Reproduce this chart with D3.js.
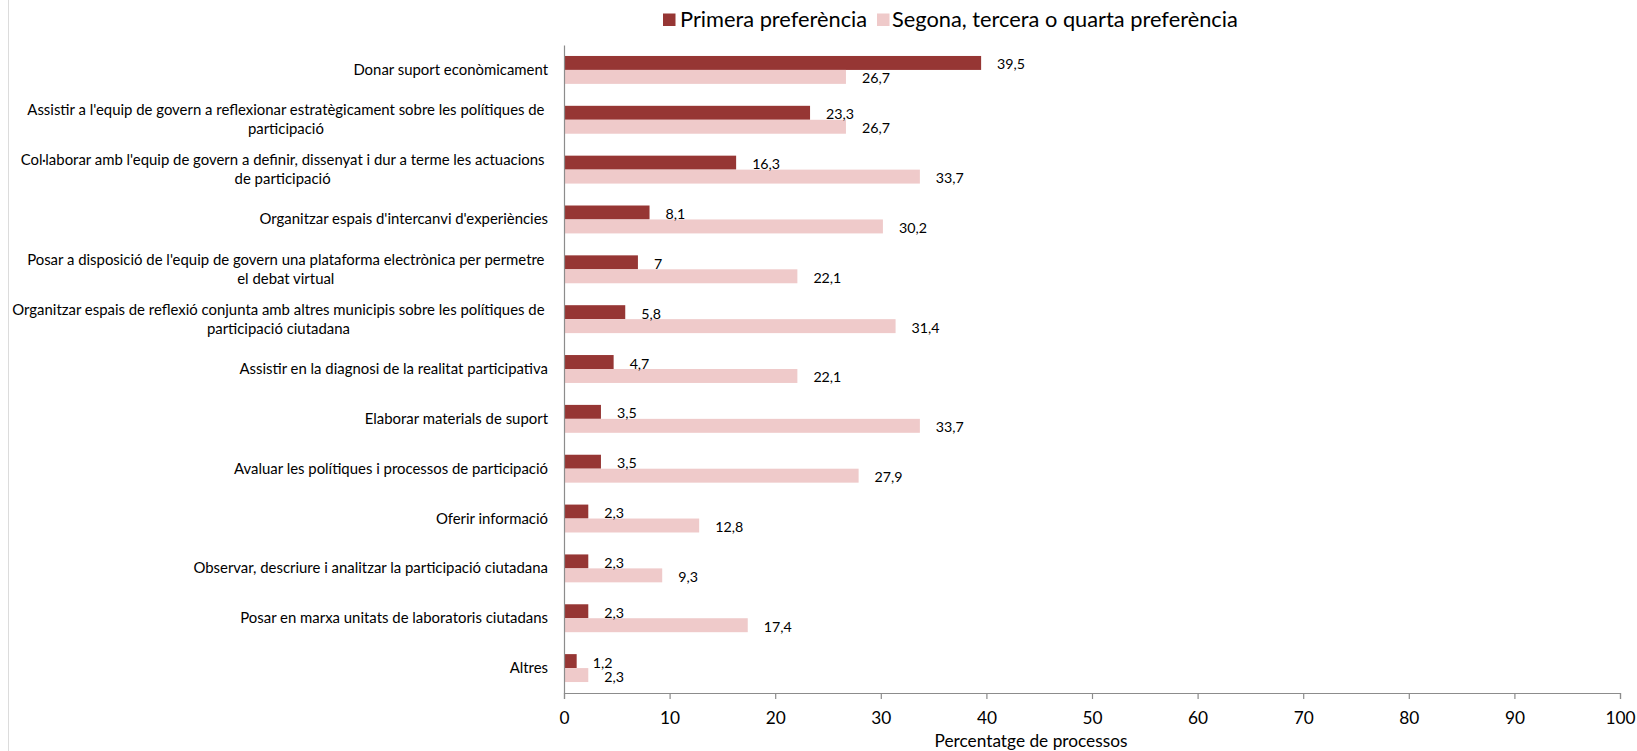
<!DOCTYPE html>
<html>
<head>
<meta charset="utf-8">
<script src="https://cdn.jsdelivr.net/npm/d3@7"></script>
<style>
  html, body { margin: 0; padding: 0; background: #ffffff; }
  svg { display: block; }
</style>
</head>
<body>
<svg id="chart" width="1637" height="751"></svg>
<script>
// ---------------- DATA ----------------
const categories = [
  "Donar suport econòmicament",
  "Assistir a l'equip de govern a reflexionar estratègicament sobre les polítiques de\nparticipació",
  "Col·laborar amb l'equip de govern a definir, dissenyat i dur a terme les actuacions\nde participació",
  "Organitzar espais d'intercanvi d'experiències",
  "Posar a disposició de l'equip de govern una plataforma electrònica per permetre\nel debat virtual",
  "Organitzar espais de reflexió conjunta amb altres municipis sobre les polítiques de\nparticipació ciutadana",
  "Assistir en la diagnosi de la realitat participativa",
  "Elaborar materials de suport",
  "Avaluar les polítiques i processos de participació",
  "Oferir informació",
  "Observar, descriure i analitzar la participació ciutadana",
  "Posar en marxa unitats de laboratoris ciutadans",
  "Altres"
];
const seriesNames = ["Primera preferència", "Segona, tercera o quarta preferència"];
const primera = [39.5, 23.3, 16.3, 8.1, 7, 5.8, 4.7, 3.5, 3.5, 2.3, 2.3, 2.3, 1.2];
const segona  = [26.7, 26.7, 33.7, 30.2, 22.1, 31.4, 22.1, 33.7, 27.9, 12.8, 9.3, 17.4, 2.3];
const xTicks = [0, 10, 20, 30, 40, 50, 60, 70, 80, 90, 100];
const xTitle = "Percentatge de processos";

// ---------------- STYLE ----------------
const colors = ["#963634", "#EFCACA"];
const FONT = "Lato, 'Open Sans', sans-serif";
const textColor = "#000000";
const axisColor = "#8c8c8c";

const svg = d3.select("#chart");
svg.attr("font-family", FONT);

function fitSize(str, target) {
  const t = svg.append("text").attr("font-family", FONT).attr("font-size", 100).text(str);
  const w = t.node().getComputedTextLength();
  t.remove();
  return 100 * target / w;
}
const catSize = fitSize("Organitzar espais de reflexió conjunta amb altres municipis sobre les polítiques de", 533);
const legSize = fitSize("Segona, tercera o quarta preferència", 346);
const titleSize = fitSize(xTitle, 193);
const valSize = fitSize("26,7", 28);

// ---------------- SCALES ----------------
const x = d3.scaleLinear().domain([0, 100]).range([564, 1620]);
const y = d3.scaleBand().domain(d3.range(categories.length)).range([45, 693])
  .paddingInner(0.44).paddingOuter(0.22);
const ySub = d3.scaleBand().domain([0, 1]).range([0, y.bandwidth()]).padding(0);

// left border line
svg.append("line").attr("x1", 8.5).attr("x2", 8.5).attr("y1", 0).attr("y2", 751)
  .attr("stroke", "#dcdcdc").attr("stroke-width", 1);

// ---------------- BARS ----------------
const seriesVals = [primera, segona];
const groups = svg.append("g").selectAll("g")
  .data(categories.map((c, i) => ({ i, vals: [primera[i], segona[i]] })))
  .join("g")
  .attr("transform", d => `translate(0,${y(d.i)})`);

groups.selectAll("rect")
  .data(d => d.vals.map((v, s) => ({ v, s })))
  .join("rect")
  .attr("x", x(0))
  .attr("y", d => ySub(d.s))
  .attr("width", d => x(d.v) - x(0))
  .attr("height", ySub.bandwidth())
  .attr("fill", d => colors[d.s]);

groups.selectAll("text.val")
  .data(d => d.vals.map((v, s) => ({ v, s })))
  .join("text")
  .attr("class", "val")
  .attr("x", d => x(d.v) + 16)
  .attr("y", d => ySub(d.s) + ySub.bandwidth() / 2 + 1.5)
  .attr("dy", "0.35em")
  .attr("font-size", valSize)
  .attr("fill", textColor)
  .text(d => String(d.v).replace(".", ","));

// ---------------- AXES ----------------
const xAxis = svg.append("g")
  .attr("transform", `translate(0,${693})`)
  .call(d3.axisBottom(x).tickValues(xTicks).tickSize(6).tickSizeOuter(6).tickFormat(d3.format("d")));
xAxis.selectAll("path, line").attr("stroke", axisColor).attr("stroke-width", 1.2);
xAxis.selectAll("text")
  .attr("y", 31).attr("dy", 0)
  .attr("font-family", FONT)
  .attr("font-size", titleSize)
  .attr("fill", textColor);

const yAxis = svg.append("g")
  .attr("transform", `translate(${564},0)`)
  .call(d3.axisLeft(y).tickSize(0).tickFormat(""));
yAxis.selectAll("path").attr("stroke", axisColor).attr("stroke-width", 1.2);
yAxis.selectAll(".tick").remove();

// category labels
const lineH = 19.2;
const catG = svg.append("g").attr("font-size", catSize).attr("fill", textColor);
categories.forEach((c, i) => {
  const lines = c.split("\n");
  const cy = y(i) + y.bandwidth() / 2;
  const n = lines.length;
  if (n === 1) {
    catG.append("text").attr("x", 548).attr("y", cy + 5)
      .attr("text-anchor", "end").text(lines[0]);
  } else {
    const probe = catG.append("text").text(lines[0]);
    const w = probe.node().getComputedTextLength();
    probe.remove();
    const cx = 544.5 - w / 2;
    lines.forEach((ln, k) => {
      catG.append("text").attr("x", cx)
        .attr("y", cy + 5 + (k - (n - 1) / 2) * lineH)
        .attr("text-anchor", "middle").text(ln);
    });
  }
});

// axis title
svg.append("text").attr("x", 1031).attr("y", 746.5)
  .attr("text-anchor", "middle").attr("font-size", titleSize)
  .attr("fill", textColor).text(xTitle);

// ---------------- LEGEND ----------------
const legendX = [663, 877];
const legendGap = [17, 15];
const leg = svg.append("g").selectAll("g").data(seriesNames).join("g")
  .attr("transform", (d, i) => `translate(${legendX[i]},0)`);
leg.append("rect").attr("x", 0).attr("y", 13.5).attr("width", 12.5).attr("height", 12.5)
  .attr("fill", (d, i) => colors[i]);
leg.append("text").attr("x", (d, i) => legendGap[i]).attr("y", 27)
  .attr("font-size", legSize).attr("fill", textColor).text(d => d);
</script>
</body>
</html>
